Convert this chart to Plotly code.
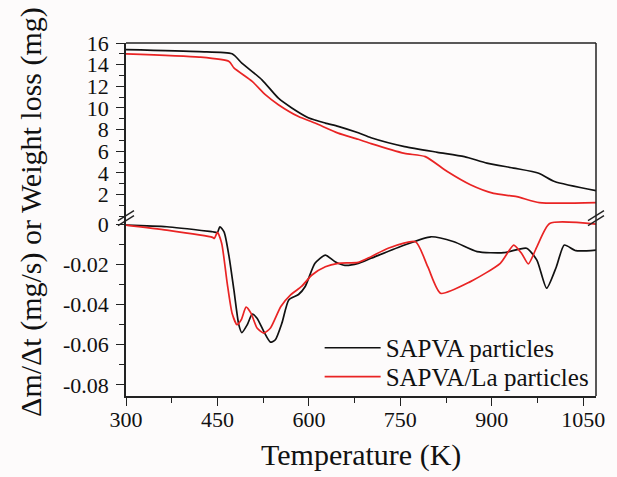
import plotly.graph_objects as go

# ---- Weight loss (TG), mg ----
tg_temp_sapva = [300, 420, 474, 490, 523, 550, 572, 599, 627, 648, 681, 702, 757, 811, 855, 892, 936, 977, 1003, 1071]
tg_sapva = [15.38, 15.2, 15.0, 14.15, 12.6, 10.9, 10.0, 9.1, 8.6, 8.3, 7.7, 7.25, 6.43, 5.9, 5.5, 4.9, 4.44, 3.97, 3.2, 2.36]

tg_temp_la = [300, 420, 469, 477, 507, 529, 550, 583, 610, 648, 681, 702, 757, 791, 827, 865, 903, 941, 978, 1071]
tg_la = [15.0, 14.7, 14.3, 13.7, 12.45, 11.2, 10.3, 9.2, 8.6, 7.67, 7.1, 6.7, 5.8, 5.5, 4.12, 2.9, 2.1, 1.8, 1.25, 1.25]

# ---- Mass-loss rate (DTG), mg/s ----
dtg_temp_sapva = [300, 367, 442, 450, 454, 461, 469, 477, 485, 490, 499, 507, 515, 526, 537, 545, 556, 567,
                  583, 594, 610, 627, 643, 659, 681, 702, 757, 800, 838, 876, 920, 957, 974, 990, 1006,
                  1019, 1038, 1071]
dtg_sapva = [-0.0005, -0.0013, -0.0038, -0.0041, -0.0013, -0.004, -0.016, -0.0327, -0.050, -0.054, -0.050,
             -0.0448, -0.0468, -0.0534, -0.0587, -0.0575, -0.049, -0.0377, -0.035, -0.031, -0.0195, -0.0154,
             -0.0187, -0.0205, -0.0195, -0.017, -0.0104, -0.0063, -0.0088, -0.0137, -0.0142, -0.012,
             -0.0179, -0.0319, -0.0212, -0.0104, -0.0132, -0.0129]

dtg_temp_la = [300, 367, 442, 445, 450, 457, 466, 474, 482, 489, 497, 505, 515, 526, 537, 554, 570, 588, 605,
               627, 648, 681, 702, 730, 775, 795, 816, 865, 914, 936, 949, 960, 974, 995, 1071]
dtg_la = [-0.0005, -0.003, -0.0066, -0.0071, -0.0041, -0.0096, -0.0294, -0.0443, -0.050, -0.0476, -0.0413,
          -0.0443, -0.0517, -0.0542, -0.0517, -0.041, -0.0352, -0.031, -0.0253, -0.0212, -0.0195, -0.019,
          -0.0162, -0.012, -0.0088, -0.0212, -0.0344, -0.0286, -0.0195, -0.0104, -0.0146, -0.0198,
          -0.0113, 0.0003, 0.0]

x_ticks = [300, 450, 600, 750, 900, 1050]
tg_ticks = [2, 4, 6, 8, 10, 12, 14, 16]
dtg_ticks = [0, -0.02, -0.04, -0.06, -0.08]
dtg_labels = ["0", "-0.02", "-0.04", "-0.06", "-0.08"]

BLACK = "#111111"
RED = "#e92424"
FONT = "Liberation Serif"
BREAK = 0.504  # vertical position of the axis break (paper units)

fig = go.Figure()

line_kw = dict(shape="spline", smoothing=0.6, width=1.7)

fig.add_trace(go.Scatter(x=tg_temp_sapva, y=tg_sapva, mode="lines", yaxis="y2",
                         line=dict(color=BLACK, **line_kw), showlegend=False))
fig.add_trace(go.Scatter(x=tg_temp_la, y=tg_la, mode="lines", yaxis="y2",
                         line=dict(color=RED, **line_kw), showlegend=False))
fig.add_trace(go.Scatter(x=dtg_temp_sapva, y=dtg_sapva, mode="lines", yaxis="y",
                         name="SAPVA particles", legend="legend", line=dict(color=BLACK, **line_kw)))
fig.add_trace(go.Scatter(x=dtg_temp_la, y=dtg_la, mode="lines", yaxis="y",
                         name="SAPVA/La particles", legend="legend2", line=dict(color=RED, **line_kw)))

tick_font = dict(family=FONT, size=22, color="#111")
axis_common = dict(showline=True, linecolor="#222", linewidth=1.5, ticks="outside", ticklen=8,
                   tickwidth=1.3, tickcolor="#222", showgrid=False, zeroline=False, tickfont=tick_font)
minor_common = dict(ticks="outside", ticklen=5, tickwidth=1.2, tickcolor="#222")

legend_common = dict(xanchor="left", yanchor="middle", bgcolor="rgba(0,0,0,0)", borderwidth=0,
                     font=dict(family=FONT, size=25, color="#111"), itemwidth=56)

fig.update_layout(
    width=617, height=477,
    margin=dict(l=126, r=17, t=43, b=81),
    paper_bgcolor="#fdfbfb", plot_bgcolor="#fdfbfb",
    xaxis=dict(range=[300, 1071], tickvals=x_ticks, ticklabelstandoff=-5,
               minor=dict(dtick=75, tick0=300, **minor_common), **axis_common),
    yaxis=dict(domain=[0, BREAK], range=[-0.0855, 0.003], tickvals=dtg_ticks, ticktext=dtg_labels,
               ticklabelstandoff=3, minor=dict(dtick=0.01, tick0=0, **minor_common), **axis_common),
    yaxis2=dict(domain=[BREAK, 1], range=[-0.18, 16], tickvals=tg_ticks, anchor="x", ticklabelstandoff=3,
                minor=dict(dtick=1, tick0=0, **minor_common), **axis_common),
    legend=dict(x=0.412, y=0.136, **legend_common),
    legend2=dict(x=0.412, y=0.054, **legend_common),
    showlegend=True,
)

# frame: top and right edges
fig.add_shape(type="line", xref="paper", yref="paper", x0=0, x1=1, y0=1, y1=1,
              line=dict(color="#222", width=1.5))
fig.add_shape(type="line", xref="paper", yref="paper", x0=1, x1=1, y0=0, y1=1,
              line=dict(color="#222", width=1.5))

# axis-break marks on the left and right edges
for xa in (0, 1):
    for dy in (-2.5, 2.5):
        fig.add_shape(type="line", xref="paper", yref="paper", xsizemode="pixel", ysizemode="pixel",
                      xanchor=xa, yanchor=BREAK, x0=-8, x1=8, y0=dy - 5, y1=dy + 5,
                      line=dict(color="#222", width=1.4))

# axis titles
fig.add_annotation(text="Δm/Δt (mg/s) or Weight loss (mg)", xref="paper", yref="paper",
                   x=-0.2025, y=0.521, textangle=-90, showarrow=False,
                   xanchor="center", yanchor="middle", font=dict(family=FONT, size=30, color="#111"))
fig.add_annotation(text="Temperature (K)", xref="paper", yref="paper",
                   x=0.5, y=-0.168, showarrow=False, xanchor="center", yanchor="middle",
                   font=dict(family=FONT, size=30, color="#111"))

fig.write_html("out.html")
